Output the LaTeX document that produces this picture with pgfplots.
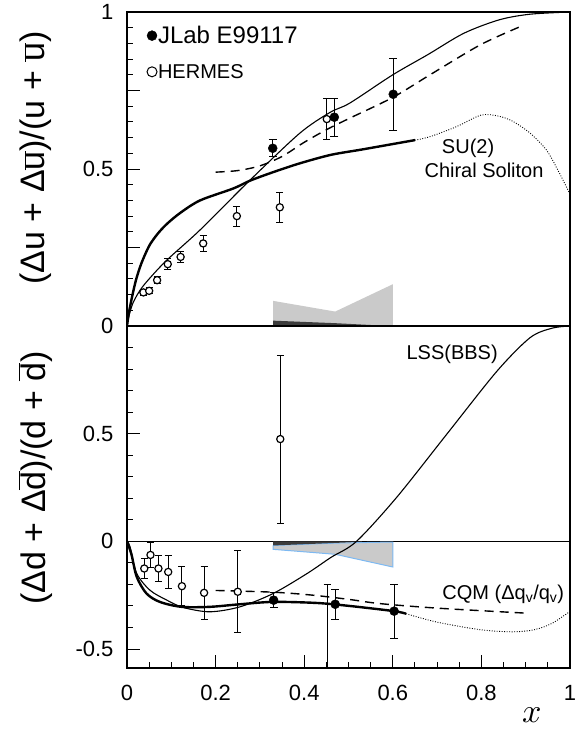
\documentclass[border=0pt]{standalone}
\usepackage{fontspec}
\setmainfont{Liberation Sans}
\usepackage{pgfplots}
\pgfplotsset{compat=1.18}
\definecolor{bandgray}{HTML}{CACACA}
\definecolor{banddark}{HTML}{3C3C3C}
\definecolor{bandblue}{HTML}{7DB9F2}
\newcommand{\ob}[1]{$\overline{\mbox{#1}}$}

\pgfplotsset{
  panel/.style={
    scale only axis, width=443pt,
    xmin=0, xmax=1,
    axis line style={line width=1.4pt},
    tick style={line width=1pt, black},
    major tick length=13pt, minor tick length=6.5pt,
    tick align=inside,
    ytick pos=left, xtick pos=bottom,
    yticklabel style={font=\fontsize{22}{26}\selectfont, xshift=-10pt},
    xticklabel style={font=\fontsize{22}{26}\selectfont, yshift=-14pt},
    ylabel style={font=\fontsize{34}{40}\selectfont, anchor=center},
  },
  thin/.style={black, line width=1.1pt, smooth, no marks},
  thick/.style={black, line width=2.4pt, smooth, no marks},
  dots/.style={black, line width=0.9pt, dash pattern=on 0.9pt off 1.6pt, smooth, no marks},
  dash/.style={black, line width=1.4pt, dash pattern=on 9pt off 6pt, smooth, no marks},
  jlab/.style={only marks, black, mark=*, mark size=4.5pt,
    error bars/.cd, y dir=both, y explicit,
    error bar style={line width=1.1pt},
    error mark options={rotate=90, mark size=4pt, line width=1pt}},
  hermes/.style={only marks, black, mark=*, mark size=3.6pt,
    mark options={fill=white, line width=1.2pt},
    error bars/.cd, y dir=both, y explicit,
    error bar style={line width=1.1pt},
    error mark options={rotate=90, mark size=3.5pt, line width=1pt}},
}

\begin{document}
\begin{tikzpicture}
% upper panel: u quark
\begin{axis}[panel, name=top, height=314pt,
  ymin=0, ymax=1,
  xtick=\empty,
  ytick={0,0.5,1}, yticklabels={0,0.5,1},
  extra y ticks={0.25,0.75}, extra y tick labels={},
  minor ytick={0.05,0.1,...,0.96},
  ylabel={(Δu + Δ\ob{u})/(u + \ob{u})},
  ylabel style={at={(axis description cs:-0.207,0.535)}},
  legend style={draw=none, fill=none, at={(axis description cs:0.038,0.965)},
    anchor=north west, legend cell align=left, row sep=17pt,
    nodes={inner sep=1pt}},
  legend image code/.code={\draw[mark repeat=2,mark phase=2,#1]
    plot coordinates {(0pt,0pt) (7pt,0pt) (14pt,0pt)};},
]
\addlegendimage{only marks, black, mark=*, mark size=5pt}
\addlegendentry{\fontsize{24}{26}\selectfont JLab E99117}
\addlegendimage{only marks, black, mark=*, mark size=5pt, mark options={fill=white, line width=1pt}}
\addlegendentry{\fontsize{20}{24}\selectfont HERMES}

% systematic bands
\addplot[fill=bandgray, draw=none] coordinates {(0.33,0) (0.33,0.08) (0.47,0.046) (0.60,0.133) (0.60,0) (0.33,0)};
\addplot[fill=banddark, draw=none] coordinates {(0.33,0) (0.33,0.017) (0.47,0.009) (0.58,0.001) (0.58,0) (0.33,0)};

% LSS(BBS)
\addplot[thin] coordinates {
  (0,0) (0.005,0.035) (0.014,0.075) (0.03,0.115) (0.05,0.15) (0.09,0.21)
  (0.165,0.306) (0.278,0.465) (0.39,0.614) (0.458,0.68) (0.503,0.71)
  (0.60,0.80) (0.68,0.865) (0.76,0.932) (0.84,0.975) (0.91,0.993) (1.0,1.0)};
% chiral soliton
\addplot[thick] coordinates {
  (0,0) (0.004,0.04) (0.011,0.09) (0.02,0.145) (0.03,0.19) (0.04,0.225)
  (0.052,0.26) (0.07,0.295) (0.09,0.325) (0.12,0.36) (0.165,0.40)
  (0.24,0.438) (0.278,0.463) (0.33,0.49) (0.39,0.518) (0.46,0.545)
  (0.53,0.562) (0.61,0.582) (0.65,0.592)};
\addplot[dots] coordinates {
  (0.65,0.592) (0.684,0.603) (0.744,0.635) (0.80,0.672) (0.84,0.668)
  (0.872,0.651) (0.91,0.614) (0.947,0.56) (0.975,0.49) (1.0,0.42)};
% CQM
\addplot[dash] coordinates {
  (0.2,0.49) (0.25,0.495) (0.3,0.51) (0.35,0.54) (0.40,0.585) (0.45,0.625)
  (0.5,0.66) (0.6,0.728) (0.684,0.8) (0.797,0.895) (0.887,0.953)};

% data
\addplot[hermes] table[x=x, y=y, y error=e] {
x      y      e
0.037  0.107  0.010
0.050  0.112  0.010
0.068  0.146  0.012
0.092  0.197  0.017
0.121  0.220  0.018
0.172  0.263  0.025
0.248  0.350  0.032
0.345  0.378  0.047
0.451  0.659  0.066
};
\addplot[jlab] table[x=x, y=y, y error=e] {
x      y      e
0.329  0.566  0.027
0.468  0.665  0.060
0.601  0.738  0.115
};

\node[font=\fontsize{20}{24}\selectfont] at (axis cs:0.77,0.567) {SU(2)};
\node[font=\fontsize{20}{24}\selectfont] at (axis cs:0.806,0.497) {Chiral Soliton};
\end{axis}

% lower panel: d quark
\begin{axis}[panel, name=bot, height=342pt,
  at={(top.south west)}, anchor=north west,
  ymin=-0.588, ymax=1,
  xtick={0,0.2,0.4,0.6,0.8,1}, xticklabels={0,0.2,0.4,0.6,0.8,1},
  minor xtick={0.05,0.1,...,0.96},
  ytick={-0.5,0,0.5}, yticklabels={-0.5,0,0.5},
  minor ytick={-0.4,-0.3,...,0.95},
  ylabel={(Δd + Δ\ob{d})/(d + \ob{d})},
  ylabel style={at={(axis description cs:-0.207,0.556)}},
  xlabel={\scalebox{3.4}{$x$}},
  xlabel style={at={(axis description cs:0.914,-0.137)}, anchor=center},
]
\addplot[black, line width=1pt, no marks] coordinates {(0,0) (1,0)};

% systematic bands
\addplot[fill=bandgray, draw=bandblue, line width=1pt] coordinates {
  (0.33,-0.019) (0.47,-0.008) (0.60,-0.003) (0.60,-0.119) (0.47,-0.06) (0.33,-0.037) (0.33,-0.019)};
\addplot[fill=banddark, draw=none] coordinates {(0.33,0) (0.33,-0.019) (0.45,-0.009) (0.53,-0.002) (0.53,0) (0.33,0)};

% LSS(BBS)
\addplot[thin] coordinates {
  (0,0) (0.007,-0.026) (0.022,-0.149) (0.052,-0.227) (0.09,-0.273)
  (0.127,-0.307) (0.187,-0.327) (0.255,-0.304) (0.33,-0.242) (0.406,-0.15)
  (0.46,-0.075) (0.518,0.0) (0.609,0.205) (0.722,0.498) (0.835,0.79)
  (0.91,0.946) (0.96,0.99) (1.0,1.0)};
% chiral soliton
\addplot[thick] coordinates {
  (0,0) (0.01,-0.06) (0.022,-0.165) (0.044,-0.242) (0.074,-0.281)
  (0.123,-0.304) (0.187,-0.304) (0.255,-0.292) (0.33,-0.281) (0.428,-0.286)
  (0.503,-0.300) (0.603,-0.324) (0.63,-0.336)};
\addplot[dots] coordinates {
  (0.63,-0.336) (0.7,-0.375) (0.797,-0.41) (0.87,-0.42) (0.92,-0.41)
  (0.96,-0.38) (1.0,-0.325)};
% CQM
\addplot[dash] coordinates {
  (0.2,-0.228) (0.33,-0.236) (0.42,-0.25) (0.503,-0.27) (0.571,-0.289)
  (0.7,-0.31) (0.898,-0.333)};

% data
\addplot[hermes] table[x=x, y=y, y error=e] {
x      y       e
0.039  -0.126  0.046
0.053  -0.063  0.060
0.071  -0.126  0.060
0.093  -0.142  0.075
0.124  -0.208  0.090
0.174  -0.239  0.124
0.250  -0.234  0.190
0.346   0.475  0.390
0.452  -0.850  0.650
};
\addplot[jlab] table[x=x, y=y, y error=e] {
x      y       e
0.331  -0.273  0.036
0.470  -0.292  0.070
0.603  -0.324  0.125
};

\node[font=\fontsize{20}{24}\selectfont] at (axis cs:0.734,0.870) {LSS(BBS)};
\node[font=\fontsize{20}{24}\selectfont, anchor=west] at (axis cs:0.704,-0.245) {CQM (Δq\textsubscript{v}/q\textsubscript{v})};
\end{axis}

\pgfresetboundingbox
\path ([shift={(-127pt,12pt)}]top.north west) rectangle ([shift={(454pt,-717pt)}]top.north west);
\end{tikzpicture}
\end{document}
